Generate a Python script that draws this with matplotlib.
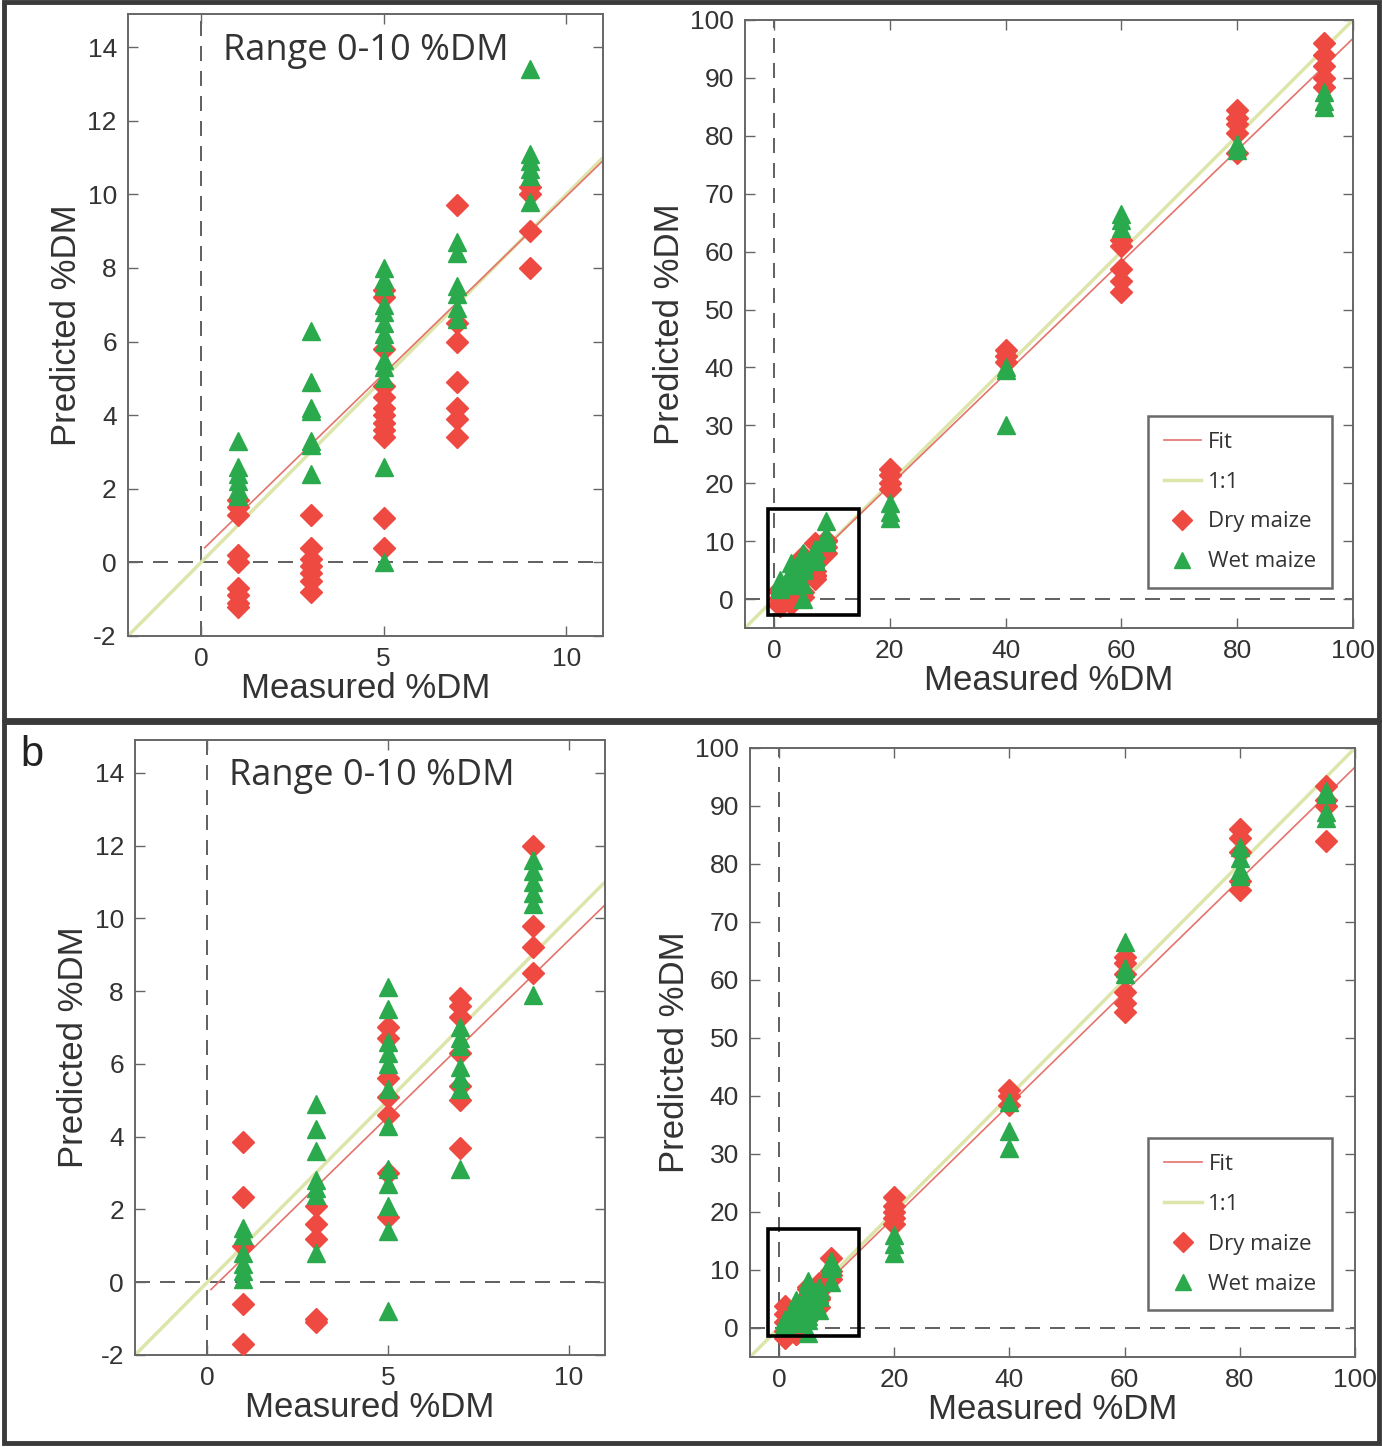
import matplotlib
matplotlib.use('Agg')
import matplotlib.pyplot as plt
from matplotlib.patches import Rectangle, ConnectionPatch
from matplotlib.lines import Line2D

plt.rcParams['axes.unicode_minus'] = False

# ---------------- data ----------------
levels_low = [1, 3, 5, 7, 9]
levels_high = [20, 40, 60, 80, 95]

# panel a
a_dry_low = [
    [1.7, 1.5, 1.3, 0.2, 0.0, -0.7, -0.9, -1.1, -1.2],
    [1.3, 0.4, 0.1, -0.1, -0.3, -0.5, -0.8],
    [7.4, 7.2, 5.8, 4.8, 4.5, 4.2, 4.0, 3.8, 3.6, 3.4, 1.2, 0.4],
    [9.7, 6.5, 6.0, 4.9, 4.2, 3.9, 3.4],
    [10.2, 10.0, 9.0, 8.0],
]
a_wet_low = [
    [3.3, 2.6, 2.4, 2.2, 2.0, 1.8],
    [6.3, 4.9, 4.2, 4.1, 3.3, 3.2, 2.4],
    [8.0, 7.7, 7.5, 7.0, 6.8, 6.5, 6.2, 6.0, 5.5, 5.3, 5.0, 2.6, 0.0],
    [8.7, 8.4, 7.5, 7.3, 6.9, 6.6],
    [13.4, 11.1, 10.9, 10.7, 10.5, 9.8],
]
a_dry_high = [
    [22.5, 21.5, 20.0, 19.0],
    [43.0, 42.0, 41.0],
    [62.0, 61.0, 57.0, 55.0, 53.0],
    [84.5, 83.0, 82.0, 80.5, 77.0],
    [96.0, 94.0, 92.0, 90.0, 88.5],
]
a_wet_high = [
    [16.5, 15.0, 14.0],
    [40.0, 39.5, 30.0],
    [66.5, 65.5, 64.0],
    [78.5, 77.5],
    [87.5, 86.0, 85.0],
]
a_fit = (0.3, 0.965)   # intercept, slope

# panel b
b_dry_low = [
    [3.85, 2.35, 1.0, -0.6, -1.7],
    [2.1, 1.6, 1.2, -1.0, -1.1],
    [7.0, 6.7, 5.6, 5.1, 4.6, 3.0, 1.8],
    [7.8, 7.6, 7.3, 6.3, 5.4, 5.0, 3.7],
    [12.0, 9.8, 9.2, 8.5],
]
b_wet_low = [
    [1.5, 1.3, 0.8, 0.5, 0.3, 0.1],
    [4.9, 4.2, 3.6, 2.8, 2.6, 2.4, 0.8],
    [8.1, 7.5, 6.6, 6.3, 6.0, 5.3, 4.3, 3.1, 2.7, 2.1, 1.4, -0.8],
    [7.0, 6.7, 6.5, 5.9, 5.6, 5.3, 3.1],
    [11.6, 11.3, 11.0, 10.7, 10.4, 7.9],
]
b_dry_high = [
    [22.5, 21.0, 20.0, 19.0, 18.0],
    [41.0, 40.0, 38.5],
    [64.0, 63.0, 61.0, 58.0, 56.0, 54.5],
    [86.0, 84.5, 82.0, 77.0, 75.5],
    [93.5, 91.0, 90.0, 84.0],
]
b_wet_high = [
    [16.0, 14.5, 13.0],
    [39.0, 34.0, 31.0],
    [66.5, 62.0, 61.0],
    [83.0, 81.0, 79.0, 78.0],
    [92.5, 92.0, 89.0, 88.0],
]
b_fit = (-0.3, 0.97)

low_xlim = (-2, 11)
low_ylim = (-2, 14.9)
low_xticks = [0, 5, 10]
low_yticks = [-2, 0, 2, 4, 6, 8, 10, 12, 14]
high_lim = (-5, 100)
high_ticks = [0, 10, 20, 30, 40, 50, 60, 70, 80, 90, 100]
high_xticks = [0, 20, 40, 60, 80, 100]

# zoom boxes (x0, y0, x1, y1) in data units of the full-range plots
a_box = (-1.0, -2.8, 14.7, 15.6)
b_box = (-1.9, -1.4, 14.0, 17.0)
a_arrow_y = (3.16, 5.7)    # (end y in zoom plot, start y on box edge)
b_arrow_y = (3.1, 6.5)

range_text = "Range 0-10 %DM"
xlabel = "Measured %DM"
ylabel = "Predicted %DM"
legend_labels = ["Fit", "1:1", "Dry maize", "Wet maize"]

# ---------------- style ----------------
RED = "#ee4a42"
GREEN = "#2aaa4c"
FITC = "#e4736b"
ONEC = "#dde5aa"
TXT = "#333333"
SPINE = "#666666"

W, H = 1382, 1447
fig = plt.figure(figsize=(W / 100, H / 100), dpi=100)
fig.patch.set_facecolor("white")


def flat(levels, groups):
    xs, ys = [], []
    for lv, g in zip(levels, groups):
        xs += [lv] * len(g)
        ys += g
    return xs, ys


def style(ax):
    for s in ax.spines.values():
        s.set_color(SPINE)
        s.set_linewidth(1.4)
    ax.tick_params(direction="in", top=True, right=True, length=7, width=1.0,
                   color=SPINE, labelsize=19, labelcolor=TXT, pad=8)
    for lab in ax.get_xticklabels() + ax.get_yticklabels():
        lab.set_fontfamily("Liberation Sans")
    ax.set_xlabel(xlabel, fontsize=25, color=TXT, family="Liberation Sans", labelpad=1)
    ax.set_ylabel(ylabel, fontsize=25, color=TXT, family="Liberation Sans", labelpad=3)


def draw(ax, dry, wet, fit, xlim, ylim, fit_x0):
    ax.axvline(0, color="#444444", lw=1.2, ls=(0, (9, 6)), zorder=1)
    ax.axhline(0, color="#444444", lw=1.2, ls=(0, (9, 6)), zorder=1)
    ax.plot([xlim[0], xlim[1]], [xlim[0], xlim[1]], color=ONEC, lw=2.5, zorder=2)
    ax.plot([fit_x0, xlim[1]], [fit[0] + fit[1] * fit_x0, fit[0] + fit[1] * xlim[1]],
            color=FITC, lw=1.2, zorder=2)
    for xs, ys in dry:
        ax.plot(xs, ys, ls="none", marker="D", ms=11, color=RED, mec=RED, zorder=3)
    for xs, ys in wet:
        ax.plot(xs, ys, ls="none", marker="^", ms=13, color=GREEN, mec=GREEN, zorder=4)
    ax.set_xlim(*xlim)
    ax.set_ylim(*ylim)


panels = [
    dict(dry_low=a_dry_low, wet_low=a_wet_low, dry_high=a_dry_high, wet_high=a_wet_high,
         fit=a_fit, box=a_box, arrow=a_arrow_y,
         posL=[0.0926, 0.5605, 0.3437, 0.4298], posR=[0.5391, 0.566, 0.4399, 0.4202],
         leg=(0.965, 0.066)),
    dict(dry_low=b_dry_low, wet_low=b_wet_low, dry_high=b_dry_high, wet_high=b_wet_high,
         fit=b_fit, box=b_box, arrow=b_arrow_y,
         posL=[0.0977, 0.0636, 0.3401, 0.425], posR=[0.5427, 0.0622, 0.4378, 0.4209],
         leg=(0.962, 0.077)),
]

for p in panels:
    axL = fig.add_axes(p["posL"])
    axR = fig.add_axes(p["posR"])
    dl = flat(levels_low, p["dry_low"])
    wl = flat(levels_low, p["wet_low"])
    dh = flat(levels_high, p["dry_high"])
    wh = flat(levels_high, p["wet_high"])

    draw(axL, [dl], [wl], p["fit"], low_xlim, low_ylim, 0.1)
    axL.set_xticks(low_xticks)
    axL.set_yticks(low_yticks)
    axL.text(0.2, 0.97, range_text, transform=axL.transAxes, fontsize=26,
             family="Open Sans", color=TXT, ha="left", va="top")
    style(axL)

    draw(axR, [dl, dh], [wl, wh], p["fit"], high_lim, high_lim, 0.0)
    axR.set_xticks(high_xticks)
    axR.set_yticks(high_ticks)
    style(axR)

    bx = p["box"]
    axR.add_patch(Rectangle((bx[0], bx[1]), bx[2] - bx[0], bx[3] - bx[1], fill=False,
                            ec="black", lw=2.6, zorder=6))
    con = ConnectionPatch(xyA=(bx[0], p["arrow"][1]), coordsA="data", axesA=axR,
                          xyB=(low_xlim[1] + 0.05, p["arrow"][0]), coordsB="data", axesB=axL,
                          arrowstyle="->", mutation_scale=22, color="#222222", lw=1.4)
    fig.add_artist(con)

    handles = [Line2D([], [], color=FITC, lw=1.2),
               Line2D([], [], color=ONEC, lw=2.5),
               Line2D([], [], ls="none", marker="D", ms=10, color=RED),
               Line2D([], [], ls="none", marker="^", ms=12, color=GREEN)]
    leg = axR.legend(handles, legend_labels, loc="lower right", bbox_to_anchor=p["leg"],
                     prop={"family": "Open Sans", "size": 16}, frameon=True, fancybox=False,
                     edgecolor="#444444", handlelength=1.7, labelspacing=0.85,
                     borderpad=0.7, handletextpad=0.3, borderaxespad=0.0)
    leg.get_frame().set_linewidth(1.8)
    for t in leg.get_texts():
        t.set_color(TXT)

# panel label
fig.text(20 / W, 1 - 755 / H, "b", fontsize=30, color="#222222", family="Liberation Sans",
         ha="left", va="center")

# panel borders
def border(x0, y0, x1, y1, lw):
    r = Rectangle((x0 / W, 1 - y1 / H), (x1 - x0) / W, (y1 - y0) / H, fill=False,
                  ec="#3a3a3a", lw=lw, transform=fig.transFigure, zorder=10)
    fig.add_artist(r)

border(4, 2, 1379, 720, 3.5)
border(4, 722, 1379, 1443, 3.5)

fig.savefig("out.png", dpi=100, facecolor="white")
